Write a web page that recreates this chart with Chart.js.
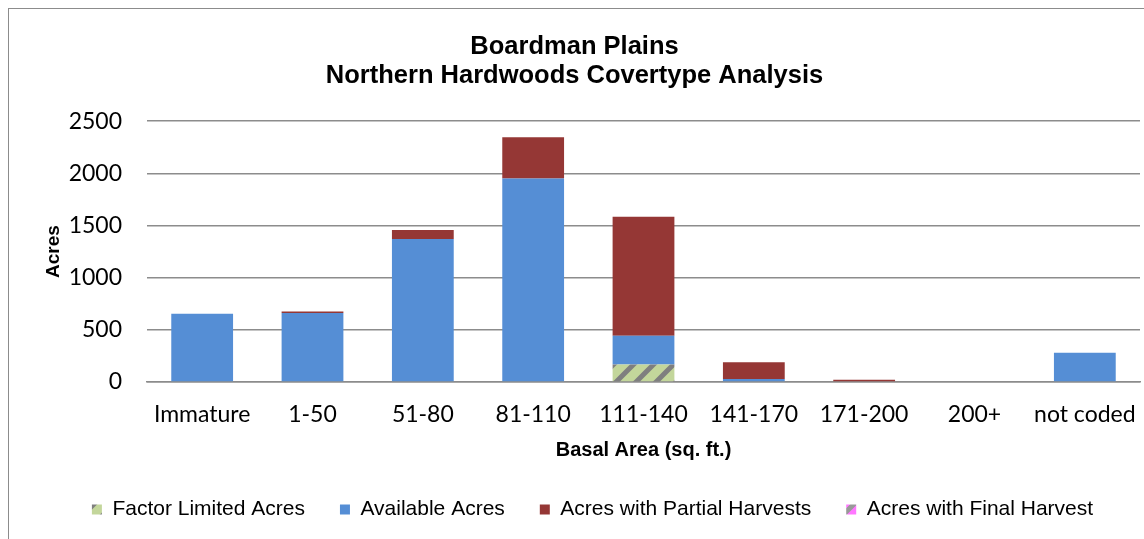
<!DOCTYPE html>
<html>
<head>
<meta charset="utf-8">
<script src="https://cdn.jsdelivr.net/npm/chart.js@4.4.1/dist/chart.umd.min.js"></script>
<style>
  html, body { margin: 0; padding: 0; background: #fff; overflow: hidden; }
  .frame {
    position: absolute; left: 8px; top: 8px;
    width: 1160px; height: 560px;
    border: 1px solid #8c8c8c;
  }
  canvas { position: absolute; left: 0; top: 0; }
</style>
</head>
<body>
<div class="frame">
  <canvas id="coverChart" width="1150" height="530"></canvas>
</div>
<script>
// basal area classes
const categories = ["Immature", "1-50", "51-80", "81-110", "111-140", "141-170", "171-200", "200+", "not coded"];

// acres per class
const factorLimited = [0, 0, 0, 0, 167, 0, 0, 0, 0];
const available = [655, 662, 1370, 1950, 277, 29, 0, 0, 280];
const partialHarvest = [0, 14, 87, 395, 1139, 161, 22, 0, 0];
const finalHarvest = [0, 0, 0, 0, 0, 0, 0, 0, 0];

const yTicks = [0, 500, 1000, 1500, 2000, 2500];

// hatched fill like the excel pattern
function makeHatch(bg, fg) {
  const c = document.createElement("canvas");
  c.width = 20;
  c.height = 20;
  const g = c.getContext("2d");
  g.fillStyle = bg;
  g.fillRect(0, 0, 20, 20);
  g.strokeStyle = fg;
  g.lineWidth = 5;
  g.beginPath();
  g.moveTo(-5, 25); g.lineTo(25, -5);
  g.moveTo(-15, 15); g.lineTo(15, -15);
  g.moveTo(5, 35); g.lineTo(35, 5);
  g.stroke();
  return g.createPattern(c, "repeat");
}

// the excel legend sits a bit right of centre
const legendShift = {
  id: "legendShift",
  afterLayout(chart) {
    chart.legend.left += 18;
    chart.legend.right += 18;
  },
};

const ctx = document.getElementById("coverChart");
new Chart(ctx, {
  type: "bar",
  data: {
    labels: categories,
    datasets: [
      {
        label: "Factor Limited Acres",
        data: factorLimited,
        backgroundColor: makeHatch("#c3d69b", "#7f7f7f"),
      },
      {
        label: "Available Acres",
        data: available,
        backgroundColor: "#558ed5",
      },
      {
        label: "Acres with Partial Harvests",
        data: partialHarvest,
        backgroundColor: "#953735",
      },
      {
        label: "Acres with Final Harvest",
        data: finalHarvest,
        backgroundColor: makeHatch("#ff77ff", "#999999"),
      },
    ],
  },
  plugins: [legendShift],
  options: {
    responsive: false,
    animation: false,
    barPercentage: 0.56,
    categoryPercentage: 1,
    layout: { padding: { left: 0, right: 19, top: 0, bottom: 9 } },
    plugins: {
      title: {
        display: true,
        text: ["Boardman Plains", "Northern Hardwoods Covertype Analysis"],
        color: "#000",
        font: { family: "Liberation Sans", size: 25.5, weight: "bold", lineHeight: 1.14 },
        padding: { top: 23, bottom: 31 },
      },
      legend: {
        position: "bottom",
        labels: {
          color: "#000",
          font: { family: "Liberation Sans", size: 21 },
          boxWidth: 10,
          boxHeight: 10,
          padding: 35,
        },
      },
      tooltip: { enabled: false },
    },
    scales: {
      x: {
        stacked: true,
        grid: { display: false, drawTicks: false },
        border: { color: "#8c8c8c", width: 1.5 },
        ticks: {
          color: "#000",
          font: { family: "Lato", size: 23 },
          padding: 19,
          maxRotation: 0,
          autoSkip: false,
        },
        title: {
          display: true,
          text: "Basal Area (sq. ft.)",
          color: "#000",
          font: { family: "Liberation Sans", size: 20, weight: "bold" },
          padding: { top: 0, bottom: 2 },
        },
        afterFit: (scale) => { scale.height = 82; },
      },
      y: {
        stacked: true,
        min: 0,
        max: 2500,
        afterBuildTicks: (scale) => { scale.ticks = yTicks.map((v) => ({ value: v })); },
        grid: { color: "#8c8c8c", lineWidth: 1.5, drawTicks: false },
        border: { display: false },
        ticks: {
          color: "#000",
          font: { family: "Lato", size: 23 },
          padding: 25,
          callback: (v) => String(v),
        },
        title: {
          display: true,
          text: "Acres",
          color: "#000",
          font: { family: "Liberation Sans", size: 19, weight: "bold" },
          padding: { top: 33, bottom: 0 },
        },
        afterFit: (scale) => { scale.width = 138; },
      },
    },
  },
});
</script>
</body>
</html>
